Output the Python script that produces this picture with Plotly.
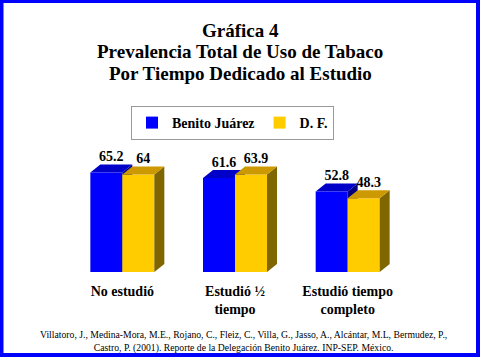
import plotly.graph_objects as go

categories = ["No estudió", "Estudió ½<br>tiempo", "Estudió tiempo<br>completo"]
series_names = ["Benito Juárez", "D. F."]
benito = [65.2, 61.6, 52.8]
df_vals = [64, 63.9, 48.3]
title_lines = ["Gráfica 4", "Prevalencia Total de Uso de Tabaco", "Por Tiempo Dedicado al Estudio"]
source_text = ("Villatoro, J., Medina-Mora, M.E., Rojano, C., Fleiz, C., Villa, G., Jasso, A., Alcántar, M.L, Bermudez, P.,<br>"
               "Castro, P. (2001). Reporte de la Delegación Benito Juárez. INP-SEP. México.")

front_colors = ["#0000FF", "#FFCC00"]
top_colors = ["#0000C8", "#CC9900"]
side_colors = ["#000080", "#806600"]

W, H = 480, 360
L, T, PW, PH = 66, 150, 338, 122
R, B = W - L - PW, H - T - PH
YMAX = 80

bw = 0.284            # bar width in x units
dx = 10 / (PW / 3)    # depth in x units
dy = 8 / (PH / YMAX)  # depth in y units

FONT = "Liberation Serif"
fig = go.Figure()
shapes = []
xs = list(range(len(categories)))

for s, (name, vals) in enumerate(zip(series_names, [benito, df_vals])):
    centers = [i + (s - 0.5) * bw for i in xs]
    fig.add_trace(go.Bar(
        x=centers, y=vals, width=bw, name=name,
        marker=dict(color=front_colors[s], line=dict(width=0)),
        hoverinfo="skip",
    ))
    layer = "below" if s == 0 else "above"
    for c, v in zip(centers, vals):
        x0, x1 = c - bw / 2, c + bw / 2
        top = f"M{x0},{v} L{x0+dx},{v+dy} L{x1+dx},{v+dy} L{x1},{v} Z"
        side = f"M{x1},0 L{x1+dx},{dy} L{x1+dx},{v+dy} L{x1},{v} Z"
        shapes.append(dict(type="path", path=side, xref="x", yref="y",
                           fillcolor=side_colors[s], line=dict(width=0), layer=layer))
        shapes.append(dict(type="path", path=top, xref="x", yref="y",
                           fillcolor=top_colors[s], line=dict(width=0), layer=layer))
    fig.add_trace(go.Scatter(
        x=[c + dx / 2 for c in centers], y=[v + dy for v in vals],
        mode="text", text=[f"{v:g}" for v in vals], textposition="top center",
        textfont=dict(family=FONT, size=14, color="black", weight="bold"),
        showlegend=False, hoverinfo="skip", cliponaxis=False,
    ))


def px_x(p):
    return (p - L) / PW


def px_y(p):
    return (T + PH - p) / PH


# frame
shapes.append(dict(type="rect", xref="paper", yref="paper",
                   x0=px_x(1.5), x1=px_x(478), y0=px_y(355), y1=px_y(1),
                   line=dict(color="#0000FF", width=4), fillcolor="rgba(0,0,0,0)",
                   layer="above"))

annotations = []
for txt, ypx in zip(title_lines, [30, 51.5, 73]):
    annotations.append(dict(
        text=f"<b>{txt}</b>", x=px_x(240), y=px_y(ypx), xref="paper", yref="paper",
        xanchor="center", yanchor="middle", showarrow=False,
        font=dict(family=FONT, size=19, color="black"),
    ))
annotations.append(dict(
    text=source_text,
    x=px_x(243), y=px_y(341), xref="paper", yref="paper",
    xanchor="center", yanchor="middle", showarrow=False,
    font=dict(family=FONT, size=9.7, color="black"),
))

fig.update_layout(
    width=W, height=H,
    margin=dict(l=L, r=R, t=T, b=B),
    paper_bgcolor="white", plot_bgcolor="white",
    barmode="overlay",
    shapes=shapes,
    annotations=annotations,
    legend=dict(
        orientation="h", x=px_x(131), y=px_y(106), xanchor="left", yanchor="top",
        bordercolor="#999999", borderwidth=1, bgcolor="white",
        font=dict(family=FONT, size=14, color="black", weight="bold"),
        itemwidth=30,
    ),
    xaxis=dict(
        range=[-0.5, 2.5], tickvals=xs, ticktext=categories,
        showgrid=False, zeroline=False, showline=False,
        ticks="outside", ticklen=6, tickcolor="white",
        tickfont=dict(family=FONT, size=14, color="black", weight="bold"),
        fixedrange=True,
    ),
    yaxis=dict(range=[0, YMAX], visible=False, fixedrange=True),
)

fig.write_html(
    "out.html",
    config={"displayModeBar": False},
    post_script="document.body.style.margin='0px';document.body.style.overflow='hidden';",
)
